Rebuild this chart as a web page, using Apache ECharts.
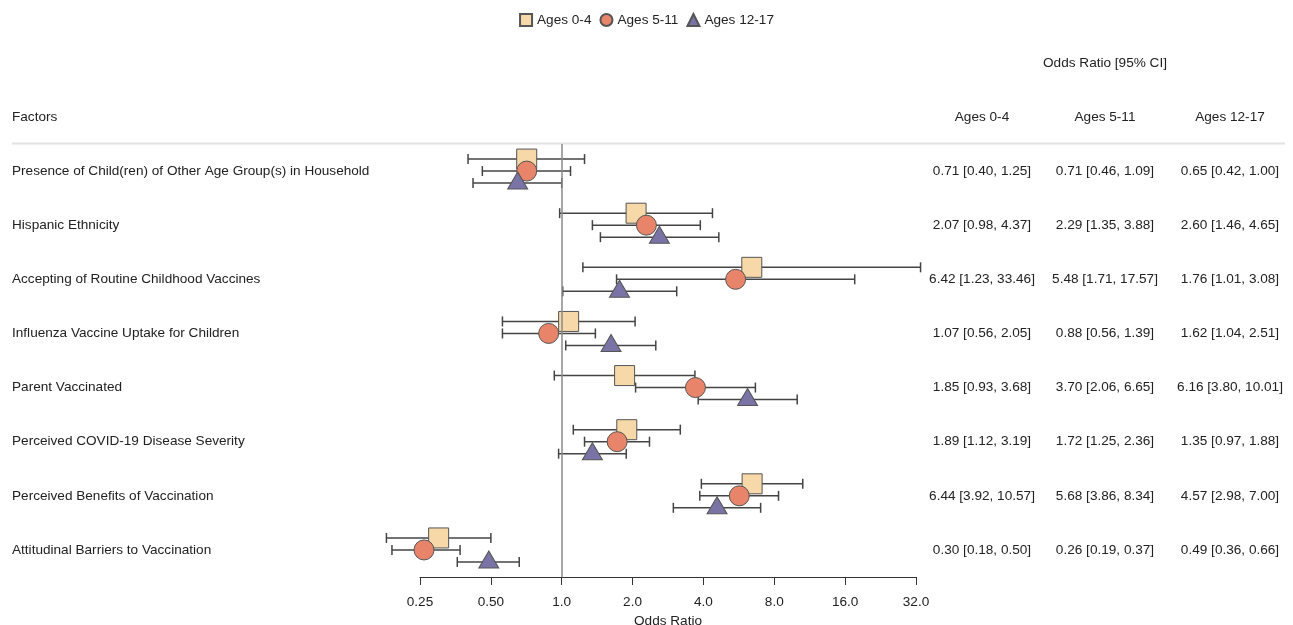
<!DOCTYPE html>
<html>
<head>
<meta charset="utf-8">
<script src="https://cdn.jsdelivr.net/npm/echarts@6/dist/echarts.min.js"></script>
<style>
html,body{margin:0;padding:0;background:#fff;}
#chart{width:1293px;height:625px;}
</style>
</head>
<body>
<div id="chart"></div>
<script>
const categories = [
  'Presence of Child(ren) of Other Age Group(s) in Household',
  'Hispanic Ethnicity',
  'Accepting of Routine Childhood Vaccines',
  'Influenza Vaccine Uptake for Children',
  'Parent Vaccinated',
  'Perceived COVID-19 Disease Severity',
  'Perceived Benefits of Vaccination',
  'Attitudinal Barriers to Vaccination'
];
const groupNames = ['Ages 0-4', 'Ages 5-11', 'Ages 12-17'];

const or04 = [0.71, 2.07, 6.42, 1.07, 1.85, 1.89, 6.44, 0.30];
const lo04 = [0.40, 0.98, 1.23, 0.56, 0.93, 1.12, 3.92, 0.18];
const hi04 = [1.25, 4.37, 33.46, 2.05, 3.68, 3.19, 10.57, 0.50];

const or511 = [0.71, 2.29, 5.48, 0.88, 3.70, 1.72, 5.68, 0.26];
const lo511 = [0.46, 1.35, 1.71, 0.56, 2.06, 1.25, 3.86, 0.19];
const hi511 = [1.09, 3.88, 17.57, 1.39, 6.65, 2.36, 8.34, 0.37];

const or1217 = [0.65, 2.60, 1.76, 1.62, 6.16, 1.35, 4.57, 0.49];
const lo1217 = [0.42, 1.46, 1.01, 1.04, 3.80, 0.97, 2.98, 0.36];
const hi1217 = [1.00, 4.65, 3.08, 2.51, 10.01, 1.88, 7.00, 0.66];

const xTicks = [0.25, 0.5, 1, 2, 4, 8, 16, 32];
const xTickLabels = ['0.25', '0.50', '1.0', '2.0', '4.0', '8.0', '16.0', '32.0'];

const FONT = '"Liberation Sans", Arial, sans-serif';
const FS = 13.6;
const TXT = '#222';

const groups = [
  {name: groupNames[0], or: or04, lo: lo04, hi: hi04, symbol: 'rect', size: 20, off: -12, symOff: -12, color: '#f7d8a8'},
  {name: groupNames[1], or: or511, lo: lo511, hi: hi511, symbol: 'circle', size: 20, off: 0, symOff: 0, color: '#e8846a'},
  {name: groupNames[2], or: or1217, lo: lo1217, hi: hi1217, symbol: 'triangle', size: [20, 17], off: 12, symOff: 9.5, color: '#7a74a6'}
];

const series = [];
groups.forEach(function (g, gi) {
  series.push({
    type: 'custom',
    name: g.name + ' CI',
    silent: true,
    clip: false,
    encode: {x: [0, 1], y: 2},
    data: categories.map(function (c, i) { return [g.lo[i], g.hi[i], i]; }),
    renderItem: function (params, api) {
      const a = api.coord([api.value(0), api.value(2)]);
      const b = api.coord([api.value(1), api.value(2)]);
      const y = a[1] + g.off;
      const st = {stroke: '#444', lineWidth: 1.5};
      return {
        type: 'group',
        children: [
          {type: 'line', shape: {x1: a[0], y1: y, x2: b[0], y2: y}, style: st},
          {type: 'line', shape: {x1: a[0], y1: y - 5, x2: a[0], y2: y + 5}, style: st},
          {type: 'line', shape: {x1: b[0], y1: y - 5, x2: b[0], y2: y + 5}, style: st}
        ]
      };
    }
  });
  series.push({
    type: 'scatter',
    name: g.name,
    symbol: g.symbol,
    symbolSize: g.size,
    symbolOffset: [0, g.symOff],
    itemStyle: {color: g.color, borderColor: '#555', borderWidth: 1, opacity: 1},
    emphasis: {disabled: true},
    data: categories.map(function (c, i) { return [g.or[i], i]; }),
    markLine: gi === 0 ? {
      silent: true,
      symbol: 'none',
      label: {show: false},
      lineStyle: {color: '#8a8a8a', width: 1.5, type: 'solid'},
      data: [{xAxis: 1}]
    } : undefined
  });
});

// right-hand text columns
const colX = [982, 1105, 1230];
series.push({
  type: 'custom',
  name: 'CI text',
  silent: true,
  clip: false,
  encode: {x: 0, y: 1},
  data: categories.map(function (c, i) { return [1, i]; }),
  renderItem: function (params, api) {
    const i = params.dataIndex;
    const y = api.coord([api.value(0), api.value(1)])[1];
    return {
      type: 'group',
      children: groups.map(function (g, gi) {
        return {
          type: 'text',
          x: colX[gi], y: y,
          style: {
            text: g.or[i].toFixed(2) + ' [' + g.lo[i].toFixed(2) + ', ' + g.hi[i].toFixed(2) + ']',
            fill: TXT, font: FS + 'px ' + FONT, align: 'center', verticalAlign: 'middle'
          }
        };
      })
    };
  }
});

const chart = echarts.init(document.getElementById('chart'), null, {renderer: 'canvas'});
chart.setOption({
  animation: false,
  backgroundColor: '#fff',
  textStyle: {fontFamily: FONT},
  legend: {
    data: groupNames,
    top: 8,
    left: 'center',
    itemWidth: 12,
    itemHeight: 12,
    itemGap: 8,
    textStyle: {fontSize: FS, color: TXT, fontFamily: FONT}
  },
  grid: {left: 420, right: 377, top: 144, bottom: 48, containLabel: false, outerBoundsMode: 'none'},
  xAxis: {
    type: 'log',
    logBase: 2,
    min: 0.25,
    max: 32,
    splitNumber: 7,
    name: 'Odds Ratio',
    nameLocation: 'middle',
    nameGap: 32,
    nameTextStyle: {fontSize: FS, color: TXT, fontFamily: FONT},
    axisLine: {show: true, lineStyle: {color: '#333', width: 1}},
    axisTick: {show: true, length: 8, lineStyle: {color: '#333'}},
    splitLine: {show: false},
    minorTick: {show: false},
    axisLabel: {
      fontSize: FS, color: TXT, fontFamily: FONT, margin: 18,
      formatter: function (v) {
        for (let k = 0; k < xTicks.length; k++) {
          if (Math.abs(v - xTicks[k]) < 1e-6 * xTicks[k] + 1e-9) return xTickLabels[k];
        }
        return '';
      }
    }
  },
  yAxis: {
    type: 'category',
    inverse: true,
    data: categories,
    axisLine: {show: false},
    axisTick: {show: false},
    splitLine: {show: false},
    axisLabel: {
      align: 'left', margin: 408,
      fontSize: FS, color: TXT, fontFamily: FONT
    }
  },
  graphic: [
    {type: 'line', silent: true, shape: {x1: 12, y1: 143.5, x2: 1285, y2: 143.5}, style: {stroke: '#e2e2e2', lineWidth: 2}},
    {type: 'text', silent: true, x: 12, y: 117, style: {text: 'Factors', fill: TXT, font: FS + 'px ' + FONT, align: 'left', verticalAlign: 'middle'}},
    {type: 'text', silent: true, x: 1105, y: 63, style: {text: 'Odds Ratio [95% CI]', fill: TXT, font: FS + 'px ' + FONT, align: 'center', verticalAlign: 'middle'}},
    {type: 'text', silent: true, x: 982, y: 117, style: {text: groupNames[0], fill: TXT, font: FS + 'px ' + FONT, align: 'center', verticalAlign: 'middle'}},
    {type: 'text', silent: true, x: 1105, y: 117, style: {text: groupNames[1], fill: TXT, font: FS + 'px ' + FONT, align: 'center', verticalAlign: 'middle'}},
    {type: 'text', silent: true, x: 1230, y: 117, style: {text: groupNames[2], fill: TXT, font: FS + 'px ' + FONT, align: 'center', verticalAlign: 'middle'}}
  ],
  series: series
});
</script>
</body>
</html>
